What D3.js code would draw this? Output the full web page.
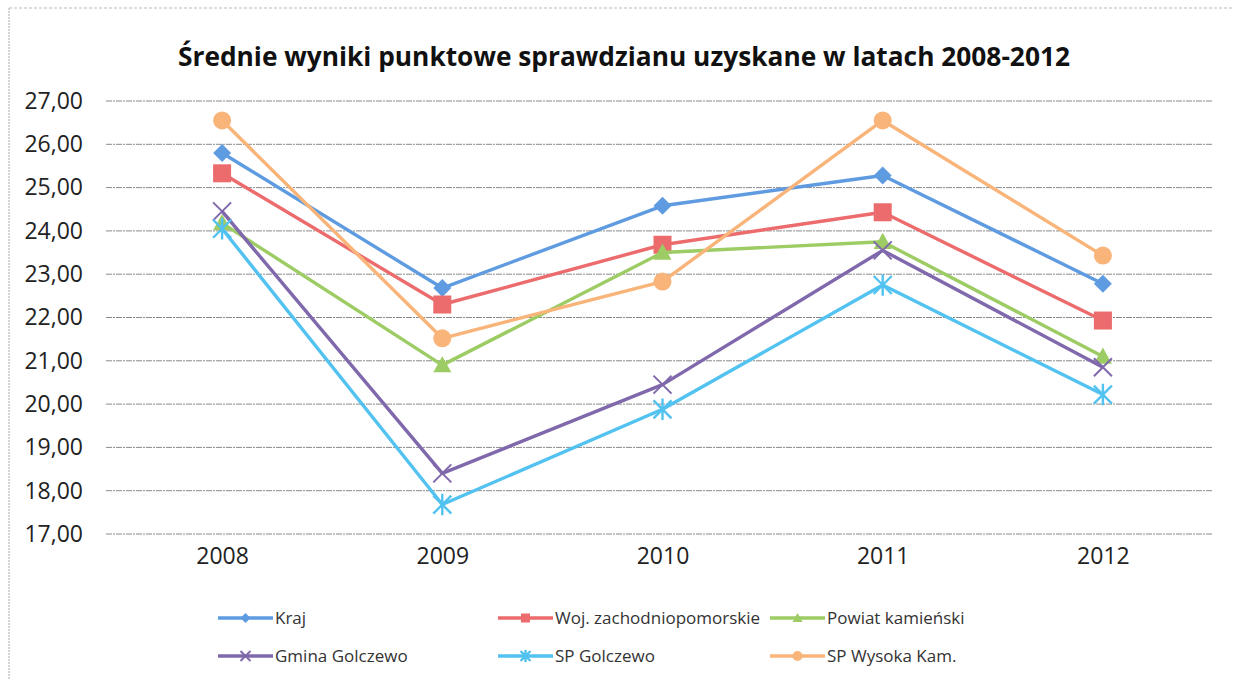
<!DOCTYPE html>
<html>
<head>
<meta charset="utf-8">
<script src="https://cdn.jsdelivr.net/npm/d3@7"></script>
<style>
	body { margin: 0; background: #fff; }
	svg { display: block; font-family: "Open Sans", Lato, sans-serif; }
</style>
</head>
<body>
<div id="chart"></div>
<script>

const title = 'Średnie wyniki punktowe sprawdzianu uzyskane w latach 2008-2012';
const years = ['2008', '2009', '2010', '2011', '2012'];
const yTicks = [17, 18, 19, 20, 21, 22, 23, 24, 25, 26, 27];

const seriesNames = ['Kraj', 'Woj. zachodniopomorskie', 'Powiat kamieński', 'Gmina Golczewo', 'SP Golczewo', 'SP Wysoka Kam.'];
const kraj = [25.80, 22.68, 24.58, 25.28, 22.78];
const woj = [25.33, 22.30, 23.68, 24.43, 21.93];
const powiat = [24.18, 20.90, 23.50, 23.75, 21.10];
const gmina = [24.45, 18.40, 20.45, 23.55, 20.85];
const spGolczewo = [24.05, 17.68, 19.88, 22.75, 20.22];
const spWysoka = [26.55, 21.52, 22.83, 26.55, 23.43];

const colors = ['#5f9be0', '#ec6b6d', '#9ccc63', '#7f68ab', '#52c2f0', '#f9b47a'];
const markers = ['diamond', 'square', 'triangle', 'cross', 'star', 'circle'];

const W = 1233, H = 680;
const margin = { left: 112, right: 20, top: 101, bottom: 146 };

const svg = d3.select('#chart').append('svg')
	.attr('width', W)
	.attr('height', H);

svg.append('rect').attr('width', W).attr('height', H).attr('fill', '#fff');

// scanned page frame
svg.append('line')
	.attr('x1', 9).attr('x2', 9).attr('y1', 8).attr('y2', H)
	.attr('stroke', '#aaa').attr('stroke-width', 1).attr('stroke-dasharray', '2,1');
svg.append('line')
	.attr('x1', 9).attr('x2', W).attr('y1', 8).attr('y2', 8)
	.attr('stroke', '#bbb').attr('stroke-width', 1).attr('stroke-dasharray', '3,2');

const x = d3.scalePoint()
	.domain(years)
	.range([margin.left, 1213])
	.padding(0.5);

const y = d3.scaleLinear()
	.domain([17, 27])
	.range([534, 101]);

// gridlines
svg.append('g')
	.selectAll('line')
	.data(yTicks)
	.join('line')
	.attr('x1', margin.left - 6)
	.attr('x2', 1213)
	.attr('y1', d => y(d))
	.attr('y2', d => y(d))
	.attr('stroke', '#8a8a8a')
	.attr('stroke-width', 1)
	.attr('stroke-dasharray', '6,1,2,1');

// y axis labels
const yAxis = svg.append('g')
	.attr('transform', `translate(${margin.left - 26},0)`)
	.call(d3.axisLeft(y).tickValues(yTicks).tickSize(0).tickFormat(d => d3.format('.2f')(d).replace('.', ',')));
yAxis.select('.domain').remove();
yAxis.selectAll('text')
	.attr('font-family', '"Open Sans", sans-serif')
	.attr('font-size', 23)
	.attr('fill', '#222');

// x axis labels
const xAxis = svg.append('g')
	.attr('transform', 'translate(0,545)')
	.call(d3.axisBottom(x).tickSize(0));
xAxis.select('.domain').remove();
xAxis.selectAll('text')
	.attr('font-family', '"Open Sans", sans-serif')
	.attr('font-size', 23)
	.attr('fill', '#222');

// title
svg.append('text')
	.attr('x', 624)
	.attr('y', 66)
	.attr('text-anchor', 'middle')
	.attr('font-size', 26.3)
	.attr('font-weight', 'bold')
	.attr('fill', '#111')
	.text(title);

const drawMarker = (g, type, color, size) => {
	const s = size;
	if (type === 'diamond') {
		g.append('path').attr('d', `M0,${-s}L${s},0L0,${s}L${-s},0Z`).attr('fill', color);
	} else if (type === 'square') {
		g.append('rect').attr('x', -s * 0.9).attr('y', -s * 0.9).attr('width', s * 1.8).attr('height', s * 1.8).attr('fill', color);
	} else if (type === 'triangle') {
		g.append('path').attr('d', `M0,${-s}L${s},${s * 0.8}L${-s},${s * 0.8}Z`).attr('fill', color);
	} else if (type === 'cross') {
		g.append('path').attr('d', `M${-s},${-s}L${s},${s}M${-s},${s}L${s},${-s}`).attr('stroke', color).attr('stroke-width', 2);
	} else if (type === 'star') {
		g.append('path').attr('d', `M${-s},${-s}L${s},${s}M${-s},${s}L${s},${-s}M0,${-s * 1.2}L0,${s * 1.2}`).attr('stroke', color).attr('stroke-width', 2.4);
	} else {
		g.append('circle').attr('r', s).attr('fill', color);
	}
};

const allSeries = [kraj, woj, powiat, gmina, spGolczewo, spWysoka];

const line = d3.line()
	.x((d, i) => x(years[i]))
	.y(d => y(d));

const plot = svg.append('g');

allSeries.forEach((vals, si) => {
	const g = plot.append('g');
	g.append('path')
		.datum(vals)
		.attr('d', line)
		.attr('fill', 'none')
		.attr('stroke', colors[si])
		.attr('stroke-width', 3.4)
		.attr('stroke-linejoin', 'round');
	vals.forEach((v, i) => {
		const m = g.append('g').attr('transform', `translate(${x(years[i])},${y(v)})`);
		drawMarker(m, markers[si], colors[si], markers[si] === 'square' ? 10 : 9);
	});
});

// legend
const legendPos = [
	[218, 618], [498, 618], [770, 618],
	[218, 656], [498, 656], [770, 656]
];

seriesNames.forEach((name, si) => {
	const [lx, ly] = legendPos[si];
	const g = svg.append('g').attr('transform', `translate(${lx},${ly})`);
	g.append('line')
		.attr('x1', 0).attr('x2', 55).attr('y1', 0).attr('y2', 0)
		.attr('stroke', colors[si]).attr('stroke-width', 3.4);
	const m = g.append('g').attr('transform', 'translate(27.5,0)');
	drawMarker(m, markers[si], colors[si], 5);
	g.append('text')
		.attr('x', 57)
		.attr('y', 6)
		.attr('font-size', 17)
		.attr('fill', '#333')
		.text(name);
});

</script>
</body>
</html>
